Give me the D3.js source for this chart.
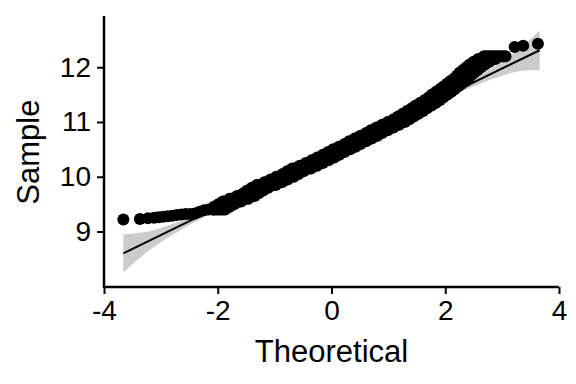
<!DOCTYPE html>
<html>
<head>
<meta charset="utf-8">
<script src="https://cdn.jsdelivr.net/npm/d3@7"></script>
<style>
  body { margin: 0; background: #fff; }
  text { font-family: "Liberation Sans", Arial, sans-serif; fill: #000; }
</style>
</head>
<body>
<div id="chart"></div>
<script>
// tail points (theoretical quantile, sample value)
const tailTheoretical = [-3.66, -3.37, -3.23, -3.12, -3.04, -2.96, -2.88, -2.80, -2.72, -2.64,
    -2.56, -2.48, -2.40, -2.32, -2.24, -2.16, -2.08, 3.22, 3.37, 3.63];
const tailSample = [9.22, 9.23, 9.24, 9.25, 9.26, 9.27, 9.28, 9.29, 9.30, 9.31,
    9.32, 9.32, 9.33, 9.36, 9.39, 9.40, 9.40, 12.37, 12.39, 12.43];

// body of the sample: tied values, each one a run of overlapping points
const runLevel = [9.40, 9.45, 9.50, 9.55, 9.60, 9.65, 9.70, 9.75, 9.80, 9.85,
    9.90, 9.95, 10.00, 10.05, 10.10, 10.15, 10.20, 10.25, 10.30, 10.35,
    10.40, 10.45, 10.50, 10.55, 10.60, 10.65, 10.70, 10.75, 10.80, 10.85,
    10.90, 10.95, 11.00, 11.05, 11.10, 11.15, 11.20, 11.25, 11.30, 11.35,
    11.40, 11.45, 11.50, 11.55, 11.60, 11.65, 11.70, 11.75, 11.80, 11.85,
    11.90, 11.95, 12.00, 12.05, 12.10, 12.15, 12.20];
// theoretical quantile where the sample steps from one level to the next
const runBreak = [-1.97, -1.89, -1.81, -1.69, -1.56, -1.45, -1.38, -1.30, -1.21, -1.08,
    -0.97, -0.87, -0.76, -0.68, -0.59, -0.46, -0.35, -0.25, -0.15, -0.05,
    0.04, 0.13, 0.23, 0.33, 0.41, 0.51, 0.61, 0.71, 0.79, 0.89,
    0.99, 1.09, 1.19, 1.27, 1.35, 1.43, 1.51, 1.58, 1.66, 1.74,
    1.81, 1.87, 1.94, 2.01, 2.07, 2.13, 2.19, 2.26, 2.31, 2.35,
    2.41, 2.47, 2.53, 2.60, 2.68, 2.78];
const runStart = -2.08;
const runEnd = 3.06;

// reference line end points
const lineX = [-3.66, 3.66];
const lineY = [8.60, 12.31];

// confidence band: positions along the line and half widths
const bandX = [-3.66, -3.4, -3.2, -3.0, -2.8, -2.5, -2.0, -1.0, 0, 1.0, 2.0, 2.5, 2.8, 3.0, 3.2, 3.4, 3.66];
const bandHalf = [0.35, 0.24, 0.17, 0.13, 0.10, 0.07, 0.045, 0.025, 0.02, 0.025, 0.045, 0.07, 0.10, 0.13, 0.17, 0.24, 0.36];

const xTicks = [-4, -2, 0, 2, 4];
const yTicks = [9, 10, 11, 12];

const width = 576;
const height = 384;
const pointR = 6;
const overlap = 0.1; // ties spill a little over the neighbouring steps

const svg = d3.select("#chart").append("svg")
    .attr("width", width)
    .attr("height", height);

const x = d3.scaleLinear().domain([-4, 4]).range([104, 559]);
const y = d3.scaleLinear().domain([7.987, 12.935]).range([287, 16]);

const lineAt = q => lineY[0] + (q - lineX[0]) * (lineY[1] - lineY[0]) / (lineX[1] - lineX[0]);

// band
const band = bandX.map((q, i) => ({ q: q, h: bandHalf[i] }));
svg.append("path")
    .datum(band)
    .attr("fill", "#cccccc")
    .attr("d", d3.area()
        .x(d => x(d.q))
        .y0(d => y(lineAt(d.q) - d.h))
        .y1(d => y(lineAt(d.q) + d.h))
        .curve(d3.curveMonotoneX));

// points
const runs = runLevel.map((s, i) => ({
    s: s,
    a: i === 0 ? runStart : runBreak[i - 1] - overlap,
    b: i === runLevel.length - 1 ? runEnd : runBreak[i] + overlap
}));
const pts = svg.append("g");
pts.selectAll("line")
    .data(runs)
    .join("line")
    .attr("x1", d => x(d.a))
    .attr("x2", d => x(d.b))
    .attr("y1", d => y(d.s))
    .attr("y2", d => y(d.s))
    .attr("stroke", "#000")
    .attr("stroke-width", pointR * 2)
    .attr("stroke-linecap", "round");
pts.selectAll("circle")
    .data(tailTheoretical.map((q, i) => [q, tailSample[i]]))
    .join("circle")
    .attr("cx", d => x(d[0]))
    .attr("cy", d => y(d[1]))
    .attr("r", pointR)
    .attr("fill", "#000");

// reference line
svg.append("line")
    .attr("x1", x(lineX[0]))
    .attr("y1", y(lineY[0]))
    .attr("x2", x(lineX[1]))
    .attr("y2", y(lineY[1]))
    .attr("stroke", "#000")
    .attr("stroke-width", 2);

// axes
const xAxis = svg.append("g")
    .attr("transform", "translate(0,287)")
    .call(d3.axisBottom(x).tickValues(xTicks).tickSize(7).tickPadding(6).tickFormat(d3.format("d")));
const yAxis = svg.append("g")
    .attr("transform", "translate(104,0)")
    .call(d3.axisLeft(y).tickValues(yTicks).tickSize(7).tickPadding(6).tickFormat(d3.format("d")));

[xAxis, yAxis].forEach(g => {
    g.select(".domain").remove();
    g.selectAll(".tick line").attr("stroke", "#000").attr("stroke-width", 2);
    g.selectAll(".tick text")
        .style("font-size", "28px")
        .style("font-family", "'Liberation Sans', Arial, sans-serif")
        .attr("fill", "#000");
});
xAxis.selectAll(".tick text").text(d => d < 0 ? "-" + Math.abs(d) : d);

svg.append("line")
    .attr("x1", x.range()[0]).attr("x2", x.range()[1])
    .attr("y1", 287).attr("y2", 287)
    .attr("stroke", "#000").attr("stroke-width", 2.5);
svg.append("line")
    .attr("x1", 104).attr("x2", 104)
    .attr("y1", 16).attr("y2", 288)
    .attr("stroke", "#000").attr("stroke-width", 2.5);

// titles
svg.append("text")
    .attr("x", x(0))
    .attr("y", 362)
    .attr("text-anchor", "middle")
    .style("font-size", "31px")
    .text("Theoretical");

svg.append("text")
    .attr("transform", "translate(39," + y(10.45) + ") rotate(-90)")
    .attr("text-anchor", "middle")
    .style("font-size", "31px")
    .text("Sample");
</script>
</body>
</html>
